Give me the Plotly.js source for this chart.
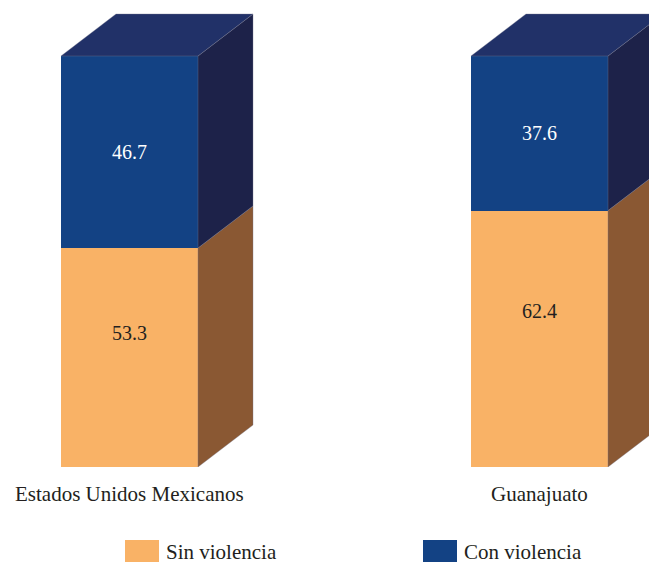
<!DOCTYPE html>
<html>
<head>
<meta charset="utf-8">
<script src="https://cdn.plot.ly/plotly-3.0.1.min.js"></script>
<style>html,body{margin:0;padding:0;background:#fff;}
#chart{width:649px;height:563px;}
#chart text{font-family:'Liberation Serif','Times New Roman',serif !important;}</style>
</head>
<body>
<div id="chart"></div>
<script>
// ---- data ----
const categories = ["Estados Unidos Mexicanos", "Guanajuato"];
const sinViolencia = [53.3, 62.4];
const conViolencia = [46.7, 37.6];
const seriesNames = ["Sin violencia", "Con violencia"];

// ---- style ----
const FONT = 'Times New Roman';
const TEXT = '#231f20';
const C_ORANGE = '#f9b266', C_ORANGE_SIDE = '#8a5833';
const C_BLUE = '#134284', C_BLUE_SIDE = '#1d2249', C_TOP = '#213168';
const BAR_W = 137 / 410;      // bar width in category units
const DX = 55 / 410;          // 3D depth, x units
const DY = 42 / 4.11;         // 3D depth, y units
const LABEL_FRAC = [0.61, 0.5]; // vertical label placement within each segment

const xs = categories.map((_, i) => i);
const traces = [];

traces.push({
  type: 'bar', x: xs, y: sinViolencia, width: BAR_W, name: seriesNames[0],
  marker: {color: C_ORANGE, line: {width: 0}}, hoverinfo: 'x+y+name', showlegend: false
});
traces.push({
  type: 'bar', x: xs, y: conViolencia, width: BAR_W, name: seriesNames[1],
  marker: {color: C_BLUE, line: {width: 0}}, hoverinfo: 'x+y+name', showlegend: false
});

function poly(px, py, color) {
  traces.push({
    type: 'scatter', mode: 'lines', x: px, y: py, fill: 'toself',
    fillcolor: color, line: {width: 0.6, color: 'rgba(120,120,140,0.6)'},
    hoverinfo: 'skip', showlegend: false
  });
}

const annotations = [];
xs.forEach(i => {
  const r = i + BAR_W / 2, l = i - BAR_W / 2;
  const a = sinViolencia[i], b = a + conViolencia[i];
  poly([r, r + DX, r + DX, r, r], [0, DY, a + DY, a, 0], C_ORANGE_SIDE);
  poly([r, r + DX, r + DX, r, r], [a, a + DY, b + DY, b, a], C_BLUE_SIDE);
  poly([l, l + DX, r + DX, r, l], [b, b + DY, b + DY, b, b], C_TOP);
  annotations.push({x: i, y: a * LABEL_FRAC[0], xref: 'x', yref: 'y', text: a.toFixed(1),
    showarrow: false, font: {family: FONT, size: 20, color: TEXT}});
  annotations.push({x: i, y: a + conViolencia[i] * LABEL_FRAC[1], xref: 'x', yref: 'y',
    text: conViolencia[i].toFixed(1), showarrow: false, font: {family: FONT, size: 20, color: '#ffffff'}});
});

const plotH = 467;
const py = pix => (plotH - pix) / plotH;
const pxp = pix => pix / 649;

categories.forEach((c, i) => annotations.push({
  x: i, xref: 'x', y: py(494), yref: 'paper', text: c, showarrow: false,
  xanchor: 'center', yanchor: 'middle', font: {family: FONT, size: 21, color: TEXT}
}));
annotations.push({x: pxp(164), xref: 'paper', y: py(552), yref: 'paper', text: seriesNames[0],
  showarrow: false, xanchor: 'left', yanchor: 'middle', font: {family: FONT, size: 21, color: TEXT}});
annotations.push({x: pxp(462), xref: 'paper', y: py(552), yref: 'paper', text: seriesNames[1],
  showarrow: false, xanchor: 'left', yanchor: 'middle', font: {family: FONT, size: 21, color: TEXT}});

const shapes = [
  {type: 'rect', xref: 'paper', yref: 'paper', x0: pxp(125), x1: pxp(159), y0: py(562), y1: py(540),
   fillcolor: C_ORANGE, line: {width: 0}},
  {type: 'rect', xref: 'paper', yref: 'paper', x0: pxp(423), x1: pxp(457), y0: py(562), y1: py(540),
   fillcolor: C_BLUE, line: {width: 0}}
];

const x0 = -129.5 / 410;
const layout = {
  width: 649, height: 563,
  margin: {l: 0, r: 0, t: 0, b: 563 - plotH, pad: 0},
  paper_bgcolor: '#ffffff', plot_bgcolor: '#ffffff',
  barmode: 'stack', showlegend: false,
  xaxis: {range: [x0, x0 + 649 / 410], visible: false, fixedrange: true},
  yaxis: {range: [0, plotH / 4.11], visible: false, fixedrange: true},
  annotations: annotations, shapes: shapes
};

Plotly.newPlot('chart', traces, layout, {displayModeBar: false, staticPlot: true}).then(() => {
  document.querySelectorAll('#chart text').forEach(t => {
    t.style.fontFamily = "'Liberation Serif', 'Times New Roman', serif";
  });
});
</script>
</body>
</html>
